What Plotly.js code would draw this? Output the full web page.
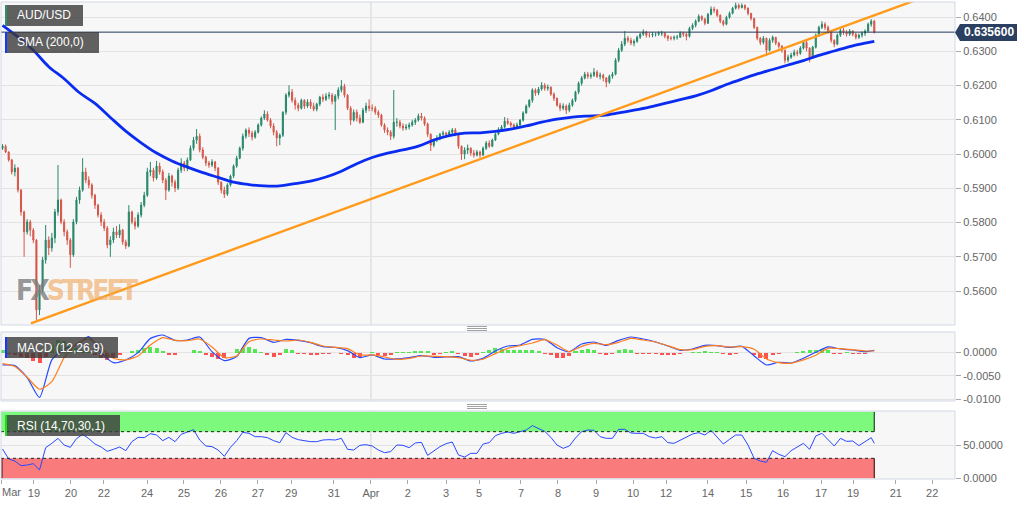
<!DOCTYPE html>
<html><head><meta charset="utf-8">
<script src="https://cdn.plot.ly/plotly-3.0.1.min.js"></script>
<style>html,body{margin:0;padding:0;background:#fff}#chart{width:1032px;height:505px}</style>
</head><body><div id="chart"></div>
<script>
// ---------- DATA (prices in pips: 6023 = 0.6023) ----------
const PIP = 0.0001;
const firstOpen = 6017;
const closePips = [
6023,6006,5983,5948,5959,5895,5831,5773,5802,5778,
5749,5545,5604,5691,5749,5726,5755,5831,5866,5802,
5773,5749,5706,5802,5866,5895,5948,5924,5910,5880,
5851,5822,5802,5784,5735,5749,5773,5764,5778,5743,
5732,5831,5802,5790,5822,5851,5880,5948,5953,5930,
5965,5948,5924,5895,5936,5918,5901,5953,5974,5959,
5983,6017,6041,6052,6012,5991,5974,5968,5977,5959,
5918,5895,5883,5910,5936,5965,5988,6017,6052,6070,
6061,6050,6064,6085,6105,6117,6099,6082,6064,6047,
6055,6122,6172,6181,6157,6143,6134,6157,6140,6152,
6140,6131,6146,6166,6160,6169,6172,6154,6169,6187,
6198,6172,6134,6099,6122,6105,6093,6128,6140,6134,
6134,6122,6114,6085,6070,6064,6052,6093,6093,6082,
6076,6079,6085,6093,6099,6111,6105,6088,6058,6026,
6041,6047,6058,6061,6058,6064,6070,6058,6023,6000,
6012,6017,6003,5997,6006,5997,6017,6032,6023,6041,
6058,6070,6079,6096,6090,6085,6079,6085,6099,6120,
6140,6157,6187,6178,6190,6201,6192,6195,6175,6163,
6143,6134,6140,6128,6143,6157,6181,6207,6222,6233,
6227,6230,6239,6227,6230,6222,6210,6227,6233,6274,
6303,6321,6338,6332,6324,6329,6341,6350,6356,6347,
6347,6350,6350,6353,6353,6344,6338,6338,6341,6341,
6353,6350,6344,6367,6376,6388,6402,6394,6382,6408,
6423,6420,6405,6388,6379,6399,6411,6426,6434,6428,
6434,6426,6411,6396,6370,6338,6326,6338,6303,6332,
6341,6324,6315,6303,6274,6283,6289,6297,6294,6309,
6326,6309,6280,6312,6347,6370,6379,6370,6359,6332,
6321,6347,6361,6356,6350,6359,6350,6341,6347,6353,
6359,6379,6388,6356];
const highPips = [
6029,6028,6008,5986,5970,5962,5898,5835,5810,5808,
5784,5752,5618,5700,5793,5760,5770,5840,5968,5870,
5810,5780,5755,5810,5875,5905,5988,5960,5935,5915,
5884,5855,5830,5810,5790,5760,5785,5790,5795,5782,
5750,5851,5835,5815,5830,5860,5890,5960,5977,5960,
5980,5975,5955,5930,5945,5940,5925,5960,5988,5980,
5990,6025,6050,6073,6060,6020,5995,5980,5985,5980,
5962,5920,5905,5915,5940,5970,5995,6022,6060,6075,
6078,6068,6070,6090,6110,6128,6125,6105,6090,6070,
6060,6125,6178,6201,6190,6165,6150,6162,6160,6160,
6160,6150,6150,6170,6175,6178,6181,6178,6175,6195,
6216,6205,6175,6140,6130,6130,6115,6135,6150,6160,
6145,6140,6128,6118,6090,6078,6070,6187,6105,6100,
6090,6088,6092,6100,6105,6118,6120,6110,6092,6060,
6045,6055,6062,6068,6065,6070,6076,6076,6060,6025,
6020,6028,6020,6012,6012,6010,6022,6038,6040,6045,
6062,6078,6085,6108,6105,6095,6090,6092,6102,6125,
6145,6160,6192,6192,6196,6210,6207,6203,6198,6180,
6165,6150,6148,6145,6150,6162,6185,6212,6228,6240,
6240,6238,6251,6245,6238,6235,6225,6232,6240,6280,
6310,6330,6359,6345,6340,6335,6346,6355,6364,6360,
6355,6356,6355,6358,6360,6356,6348,6345,6346,6348,
6358,6357,6355,6372,6382,6393,6408,6405,6398,6412,
6431,6430,6424,6408,6392,6404,6416,6430,6443,6440,
6440,6437,6428,6412,6398,6372,6342,6345,6340,6338,
6346,6342,6328,6318,6305,6290,6296,6305,6304,6315,
6332,6335,6312,6316,6352,6375,6388,6385,6375,6362,
6335,6352,6367,6368,6362,6365,6362,6355,6352,6358,
6364,6384,6394,6392];
const lowPips = [
6012,6003,5978,5940,5935,5888,5820,5700,5765,5760,
5740,5516,5530,5595,5680,5705,5715,5740,5820,5795,
5760,5735,5668,5700,5795,5855,5890,5915,5900,5870,
5840,5815,5790,5775,5725,5700,5740,5755,5755,5735,
5723,5728,5795,5780,5785,5815,5845,5875,5935,5920,
5925,5940,5915,5866,5890,5905,5889,5895,5945,5950,
5950,5980,6010,6030,6005,5985,5965,5960,5962,5950,
5910,5885,5872,5878,5905,5930,5960,5985,6010,6045,
6050,6040,6045,6060,6080,6100,6095,6075,6055,6023,
6026,6050,6115,6165,6150,6130,6125,6130,6132,6135,
6132,6125,6125,6140,6152,6155,6160,6145,6070,6160,
6180,6165,6128,6085,6095,6095,6088,6090,6120,6125,
6125,6115,6105,6080,6062,6055,6041,6045,6080,6075,
6068,6070,6072,6080,6085,6095,6098,6082,6050,6009,
6020,6035,6040,6052,6050,6052,6058,6052,6015,5983,
5985,6000,5995,5990,5993,5990,5995,6012,6018,6020,
6038,6055,6065,6075,6085,6078,6072,6075,6080,6095,
6118,6135,6150,6170,6172,6185,6185,6185,6170,6155,
6138,6125,6128,6117,6122,6138,6152,6175,6200,6218,
6220,6220,6225,6222,6218,6212,6195,6205,6220,6230,
6268,6298,6315,6325,6318,6315,6325,6336,6345,6340,
6340,6341,6343,6345,6345,6338,6330,6332,6332,6334,
6340,6342,6332,6340,6362,6370,6385,6388,6376,6380,
6405,6412,6400,6382,6373,6376,6395,6408,6422,6422,
6425,6420,6405,6390,6365,6332,6318,6320,6286,6300,
6325,6318,6308,6296,6265,6268,6278,6285,6286,6290,
6305,6300,6268,6278,6308,6342,6365,6362,6352,6325,
6312,6318,6342,6348,6343,6345,6344,6335,6336,6340,
6345,6355,6372,6352];
// SMA(200) sampled every 5 candles, last value at the final candle
const SMA_STEP = 5;
const smaPips = [
6376,6342,6303,6255,6220,6179,6148,6107,6067,6033,
6003,5980,5962,5946,5932,5918,5911,5907,5907,5914,
5921,5933,5950,5972,5990,6003,6012,6023,6041,6054,
6061,6062,6066,6073,6082,6093,6102,6108,6111,6113,
6120,6128,6137,6148,6159,6170,6185,6203,6219,6234,
6247,6260,6273,6288,6301,6314,6324,6329];
// Trend line anchors (candle index, price)
const trendIdx = [9.2, 300];
const trendPrice = [0.5506, 0.6461];
const lastPrice = 0.6356;
const lastPriceLabel = '0.635600';
// RSI(14) every 2 candles
const RSI_STEP = 2;
const rsiVals = [
44,29,26,19,20,22,12.5,46,52.5,60,
50,46.5,59.5,66,59.5,51.5,47,40.5,43.5,47,
41.5,55,61.5,61,67,65,56.5,61.5,55,66,
69.5,73,57.5,48.5,47.5,42.5,33,46.5,56.5,69,
67.5,62.5,62.5,61,56.5,53.5,68.5,61.5,58,56,
55,55,57.5,58,57.5,60,43.5,42.5,49.5,50.5,
48.5,42.5,38.5,40,50,49.5,46,53,54,34.5,
41.5,47.5,52,54.5,35,32,37.5,37.5,51.5,53.5,
64,67.5,69.5,67.5,70,72.5,79,75,70.5,61.5,
50,45,48.5,60.5,70,72.5,72,62.5,60,60,
73.5,73.5,68,67.5,67.5,62.5,60.5,62.5,53.5,52.5,
57.5,61.5,66.5,68.5,65,72,61.5,51.5,58.5,65,
65,50,30,26,24,41.5,36,32.5,41.5,47.5,
52.5,43.5,63.5,67.5,57.5,48.5,60,55.5,56,49,
55,61,52.5];
const rsiUpper = 70, rsiLower = 30;
// MACD(12,26,9) every 4 candles
const MACD_STEP = 4;
const macdVals = [
-0.00265,-0.00279,-0.00536,-0.00965,-0.00157,0.00079,0.00164,0.00343,0.0000,-0.00215,
-0.00157,0.0,0.00307,0.00379,0.00265,0.00272,0.00336,0.00021,-0.00172,-0.00086,
0.00307,0.00322,0.00222,0.00286,0.00265,0.00215,0.00129,0.00114,0.00043,-0.00107,
-0.0005,-0.00136,-0.00136,-0.00107,-0.00064,-0.001,-0.00093,-0.00086,-0.00179,-0.00122,
0.00036,0.00143,0.00164,0.00286,0.00286,0.00107,0.00021,0.00186,0.00229,0.00157,
0.00265,0.00336,0.00293,0.00229,0.00143,0.0005,0.00079,0.00157,0.0015,0.00114,
0.00136,-0.00072,-0.00265,-0.00207,-0.00222,-0.00122,0.00007,0.00122,0.00079,0.00057,
0.00021,0.0005];
const signalVals = [
-0.00236,-0.003,-0.00529,-0.00787,-0.00622,-0.00107,0.00193,0.00293,0.00107,-0.00122,
-0.00157,-0.00072,0.00164,0.00322,0.00265,0.00257,0.00293,0.00122,-0.00107,-0.00072,
0.00236,0.00293,0.00272,0.0025,0.00272,0.00222,0.00143,0.00114,0.00086,-0.0005,
-0.0005,-0.00093,-0.00143,-0.00122,-0.00072,-0.00079,-0.00086,-0.00107,-0.00164,-0.00143,
-0.00021,0.00093,0.0015,0.00207,0.00279,0.00164,0.00021,0.00136,0.002,0.00172,
0.00222,0.00307,0.00272,0.00229,0.0015,0.00064,0.00064,0.00136,0.0015,0.00122,
0.00129,0.00072,-0.00136,-0.00215,-0.00229,-0.00157,-0.00057,0.00093,0.00086,0.00064,
0.00036,0.0004];
const HIST_STEP = 2;
const histVals = [
0.0006,-0.0002,-0.0005,-0.0009,-0.0012,-0.0018,-0.0023,-0.0009,0.0016,0.0027,
0.0025,0.0015,0.001,0.0005,0.0002,-0.0006,-0.0012,-0.0015,-0.0011,-0.0004,
-0.0001,0.0004,0.0006,0.0009,0.0012,0.0011,0.0004,-0.0004,-0.0005,-0.0001,
0,0.0005,0.0004,-0.0004,-0.0009,-0.0014,-0.0011,-0.0001,0.0008,0.0011,
0.0012,0.0008,0.0002,-0.0005,-0.0009,-0.0006,0.0007,0.0005,-0.0002,-0.0003,
-0.0004,-0.0004,-0.0003,-0.0002,-0.0001,-0.0002,-0.0006,-0.0012,-0.001,-0.0001,
0.0001,-0.0005,-0.0007,-0.0004,0.0001,0.0002,0.0002,0.0003,0.0004,0.0003,
-0.0004,-0.0003,0.0002,0.0003,-0.0002,-0.0007,-0.0009,-0.0005,0.0002,0.0006,
0.0009,0.0008,0.0006,0.0005,0.0005,0.0005,0.0006,0.0004,-0.0002,-0.0006,
-0.0011,-0.0012,-0.0008,0.0004,0.0006,0.0007,0.0005,-0.0002,-0.0004,-0.0002,
0.0005,0.0008,0.0005,-0.0002,-0.0002,-0.0003,-0.0003,-0.0004,-0.0004,-0.0004,
-0.0002,-0.0001,0.0001,0.0002,0.0003,0.0002,0.0001,-0.0003,-0.0004,-0.0002,
-0.0001,-0.0001,-0.0006,-0.0012,-0.0014,-0.0006,-0.0002,-0.0001,0,0.0002,
0.0004,0.0005,0.0006,0.0008,0.0005,-0.0003,-0.0002,0.0001,-0.0002,-0.0003,
-0.0003,-0.0001];
// X axis (candle index of each day start) and labels
const tickPos = [-0.5,10.2,22.2,32.9,46.9,58.9,70.9,82.9,93.7,107.6,119.6,131.6,144.0,154.7,168.3,180.3,192.7,204.7,215.4,229.0,241.4,253.4,265.7,276.1,290.0,301.8];
const tickLabels = ['','19','20','22','24','25','26','27','29','31','Apr','2','3','5','7','8','9','10','12','14','15','16','17','19','21','22'];
const monthStartPos = 119.6;
const priceTicks = [0.56,0.57,0.58,0.59,0.60,0.61,0.62,0.63,0.64];
const macdTicks = [0, -0.005, -0.01];
const macdTickText = ['0.0000','-0.0050','-0.0100'];
const rsiTicks = [0, 50];
const rsiTickText = ['0.0000','50.0000'];

// ---------- BUILD ----------
const N = closePips.length;
const idx = closePips.map((_, i) => i);
const close = closePips.map(v => v * PIP);
const open = [firstOpen * PIP].concat(close.slice(0, -1));
const high = highPips.map(v => v * PIP);
const low = lowPips.map(v => v * PIP);
const stepX = (step, n) => Array.from({length: n}, (_, i) => Math.min(i * step, N - 1));

const FONT = '"Liberation Sans", Arial, sans-serif';
const traces = [
  {type:'candlestick', x: idx, open, high, low, close, xaxis:'x', yaxis:'y',
   increasing:{line:{color:'#27876a', width:1}, fillcolor:'#27876a'},
   decreasing:{line:{color:'#d5574a', width:1}, fillcolor:'#d5574a'},
   whiskerwidth:0, hoverinfo:'skip'},
  {type:'scatter', mode:'lines', x: stepX(SMA_STEP, smaPips.length), y: smaPips.map(v => v * PIP),
   line:{color:'#0a2cf0', width:2.8, shape:'spline', smoothing:1}, xaxis:'x', yaxis:'y', hoverinfo:'skip'},
  {type:'scatter', mode:'lines', x: trendIdx, y: trendPrice, line:{color:'#ff9a1a', width:2.4},
   xaxis:'x', yaxis:'y', hoverinfo:'skip'},
  {type:'bar', x: stepX(HIST_STEP, histVals.length), y: histVals, width: 1.3,
   marker:{color: histVals.map(v => v >= 0 ? 'rgba(45,225,45,0.8)' : 'rgba(255,40,40,0.8)'), line:{width:0}},
   xaxis:'x', yaxis:'y2', hoverinfo:'skip'},
  {type:'scatter', mode:'lines', x: stepX(MACD_STEP, macdVals.length), y: macdVals,
   line:{color:'#2848ff', width:1.2, shape:'spline', smoothing:0.6}, xaxis:'x', yaxis:'y2', hoverinfo:'skip'},
  {type:'scatter', mode:'lines', x: stepX(MACD_STEP, signalVals.length), y: signalVals,
   line:{color:'#ff7f1e', width:1.2, shape:'spline', smoothing:0.6}, xaxis:'x', yaxis:'y2', hoverinfo:'skip'},
  {type:'scatter', mode:'lines', x: stepX(RSI_STEP, rsiVals.length), y: rsiVals,
   line:{color:'#2848ff', width:1}, xaxis:'x', yaxis:'y3', hoverinfo:'skip'}
];

// pixel helpers for decorations (plot area: x 1..955, y 2..479)
const PX = px => (px - 1) / 954;
const PY = py => (479 - py) / 477;
const D = {price:[PY(325), 1], macd:[PY(401), PY(332)], rsi:[0, PY(411)]};

const shapes = [];
// RSI zones
shapes.push({type:'rect', xref:'x', yref:'y3', x0:-0.5, x1:N-1, y0:rsiUpper, y1:100, fillcolor:'#7dfa7d', line:{width:0}, layer:'below'});
shapes.push({type:'rect', xref:'x', yref:'y3', x0:-0.5, x1:N-1, y0:0, y1:rsiLower, fillcolor:'#f97b7b', line:{width:0}, layer:'below'});
// month boundary lines
['y','y2','y3'].forEach(a => shapes.push({type:'line', xref:'x', yref:a + ' domain', x0:monthStartPos, x1:monthStartPos, y0:0, y1:1, line:{color:'rgba(200,200,200,0.7)', width:1}, layer:'below'}));
// RSI zone edges
[rsiUpper, rsiLower].forEach(v => shapes.push({type:'line', xref:'x', yref:'y3', x0:-0.5, x1:N-1, y0:v, y1:v, line:{color:'#222', width:1, dash:'dot'}, layer:'above'}));
shapes.push({type:'line', xref:'x', yref:'y3', x0:N-1, x1:N-1, y0:rsiUpper, y1:100, line:{color:'#1d4d1d', width:1.2}});
shapes.push({type:'line', xref:'x', yref:'y3', x0:N-1, x1:N-1, y0:0, y1:rsiLower, line:{color:'#4d1d1d', width:1.2}});
shapes.push({type:'line', xref:'paper', yref:'y3', x0:0.001, x1:0.001, y0:0, y1:rsiLower, line:{color:'#4d1d1d', width:1.2}});
// current price line
shapes.push({type:'line', xref:'paper', yref:'y', x0:0, x1:1, y0:lastPrice, y1:lastPrice, line:{color:'#22395c', width:1}, layer:'above'});
// panel borders
Object.values(D).forEach(d => shapes.push({type:'rect', xref:'paper', yref:'paper', x0:0, x1:1, y0:d[0], y1:d[1], line:{color:'#d2d7e6', width:1}, fillcolor:'rgba(0,0,0,0)', layer:'above'}));
// indicator labels
const labelBoxes = [
  {x1:83, y0:5, y1:26, bar:'#2f8f6a', text:'AUD/USD'},
  {x1:99, y0:32, y1:53, bar:'#1538ff', text:'SMA (200,0)'},
  {x1:118, y0:337, y1:358, bar:'#1538ff', text:'MACD (12,26,9)'},
  {x1:120, y0:415, y1:436, bar:'#18e018', text:'RSI (14,70,30,1)'}
];
const annotations = [];
labelBoxes.forEach(b => {
  shapes.push({type:'rect', xref:'paper', yref:'paper', x0:PX(5), x1:PX(b.x1), y0:PY(b.y1), y1:PY(b.y0), fillcolor:'rgba(58,58,58,0.8)', line:{width:0}, layer:'above'});
  shapes.push({type:'rect', xref:'paper', yref:'paper', x0:PX(5), x1:PX(7), y0:PY(b.y1), y1:PY(b.y0), fillcolor:b.bar, line:{width:0}, layer:'above'});
  annotations.push({xref:'paper', yref:'paper', x:PX(15), y:PY((b.y0 + b.y1) / 2), xanchor:'left', yanchor:'middle', showarrow:false, text:b.text, font:{family:FONT, size:12, color:'#ffffff'}});
});
// price tag on right
shapes.push({type:'path', xref:'paper', yref:'paper',
  path:`M ${PX(955)},${PY(32.5)} L ${PX(960)},${PY(24)} L ${PX(1017)},${PY(24)} L ${PX(1017)},${PY(41)} L ${PX(960)},${PY(41)} Z`,
  fillcolor:'#2b3f60', line:{width:0}, layer:'above'});
annotations.push({xref:'paper', yref:'paper', x:PX(988.5), y:PY(32.5), xanchor:'center', yanchor:'middle', showarrow:false, text:'<b>' + lastPriceLabel + '</b>', font:{family:FONT, size:12, color:'#ffffff'}});
// panel separators (grip icons)
[326.5, 328.5, 330.5, 404.5, 406.5, 408.5].forEach(py => shapes.push({type:'line', xref:'paper', yref:'paper', x0:PX(467), x1:PX(487), y0:PY(py), y1:PY(py), line:{color:'#8a8a8a', width:0.8}}));
// first month label
annotations.push({xref:'paper', yref:'paper', x:PX(0), y:PY(492), xanchor:'left', yanchor:'middle', showarrow:false, text:'Mar', font:{family:FONT, size:11, color:'#666'}});
// watermark
annotations.push({xref:'paper', yref:'paper', x:PX(14), y:PY(290), xanchor:'left', yanchor:'middle', showarrow:false,
  text:'<b><span style="color:rgba(125,125,125,0.8);letter-spacing:-3px">FX</span><span style="color:rgba(240,170,95,0.65);letter-spacing:-3px">STREET</span></b>',
  font:{family:'"Liberation Sans Narrow", "DejaVu Sans Condensed", "Roboto Condensed", "Liberation Sans", sans-serif', size:28}});

const axisCommon = {side:'right', anchor:'x', tickmode:'array', ticks:'outside', ticklen:5, tickcolor:'#aaa',
  gridcolor:'#e3e3e3', gridwidth:1, zeroline:false, showline:false, fixedrange:true,
  tickfont:{family:FONT, size:11, color:'#666'}};
const layout = {
  width:1032, height:505, margin:{l:1, r:77, t:2, b:26},
  paper_bgcolor:'#ffffff', plot_bgcolor:'#f7f7f7', showlegend:false, boxgap:0.5, bargap:0,
  font:{family:FONT, size:11, color:'#666'},
  xaxis:{domain:[0,1], range:[-0.5, 309.2], anchor:'y3', tickmode:'array', tickvals:tickPos, ticktext:tickLabels,
    ticks:'outside', ticklen:4, tickcolor:'#aaa', showgrid:false, zeroline:false, showline:false,
    rangeslider:{visible:false}, fixedrange:true, tickfont:{family:FONT, size:11, color:'#666'}},
  yaxis:Object.assign({}, axisCommon, {domain:D.price, range:[0.5501, 0.6444], tickvals:priceTicks, tickformat:'.4f'}),
  yaxis2:Object.assign({}, axisCommon, {domain:D.macd, range:[-0.0104, 0.00444], tickvals:macdTicks, ticktext:macdTickText}),
  yaxis3:Object.assign({}, axisCommon, {domain:D.rsi, range:[-1, 101], tickvals:rsiTicks, ticktext:rsiTickText}),
  shapes, annotations
};
Plotly.newPlot('chart', traces, layout, {staticPlot:true, displayModeBar:false});
</script>
</body></html>
